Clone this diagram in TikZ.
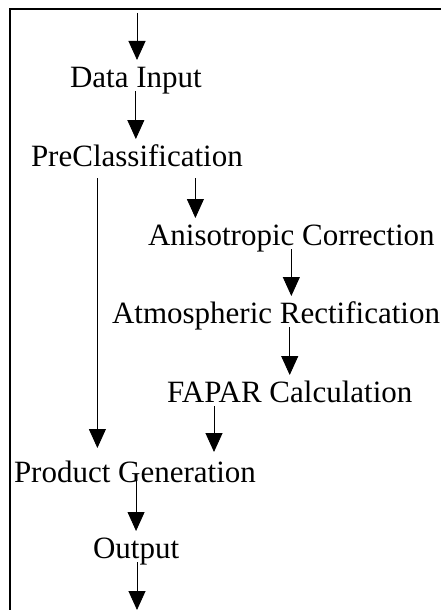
\documentclass[tikz,border=0pt]{standalone}
\usepackage{fontspec}
\setmainfont{Liberation Serif}
\usetikzlibrary{arrows.meta,calc}

\begin{document}
\begin{tikzpicture}[x=1pt,y=-1pt,
  lbl/.style={inner sep=0pt, outer sep=0pt, anchor=base west,
    text height=27pt, text depth=4pt, font=\fontsize{31}{37}\selectfont},
  flow/.style={-{Triangle[width=17pt,length=19pt]}, line width=0.9pt},
  frameline/.style={line width=1.1pt}]
  \useasboundingbox (0,0) rectangle (441,610);

  % open frame: top and left edges
  \draw[frameline] (10,610) -- (10,9) -- (441,9);

  % processing steps
  \node[lbl] (dat)  at (70,87)  {Data Input};
  \node[lbl] (pre)  at (31,166) {PreClassification};
  \node[lbl] (ani)  at (148,245) {Anisotropic Correction};
  \node[lbl] (atm)  at (112,323) {Atmospheric Rectification};
  \node[lbl] (fap)  at (167,402) {FAPAR Calculation};
  \node[lbl] (prod) at (14,482) {Product Generation};
  \node[lbl] (out)  at (93,558) {Output};

  \coordinate (top) at (137,13);
  \coordinate (bot) at (137,610);

  % flow of data
  \draw[flow] (top) -- (top |- dat.north);
  \draw[flow] (dat.south) -- (dat.south |- pre.north);
  \draw[flow, shorten <=8pt] ([xshift=58.5pt]pre.south) -- ([xshift=58.5pt]pre.south |- ani.north);
  \draw[flow] (ani.south) -- (ani.south |- atm.north);
  \draw[flow] (fap.north |- atm.south) -- (fap.north);
  \draw[flow, shorten <=8pt, shorten >=7pt] ([xshift=-39.5pt]pre.south) -- ([xshift=-39.5pt]pre.south |- prod.north);
  \draw[flow, shorten >=3pt] ([xshift=47pt]fap.south west) -- ([xshift=47pt]fap.south west |- prod.north);
  \draw[flow, shorten <=-6pt] (out.north |- prod.south) -- (out.north);
  \draw[flow] (bot |- out.south) -- (bot);
\end{tikzpicture}
\end{document}
